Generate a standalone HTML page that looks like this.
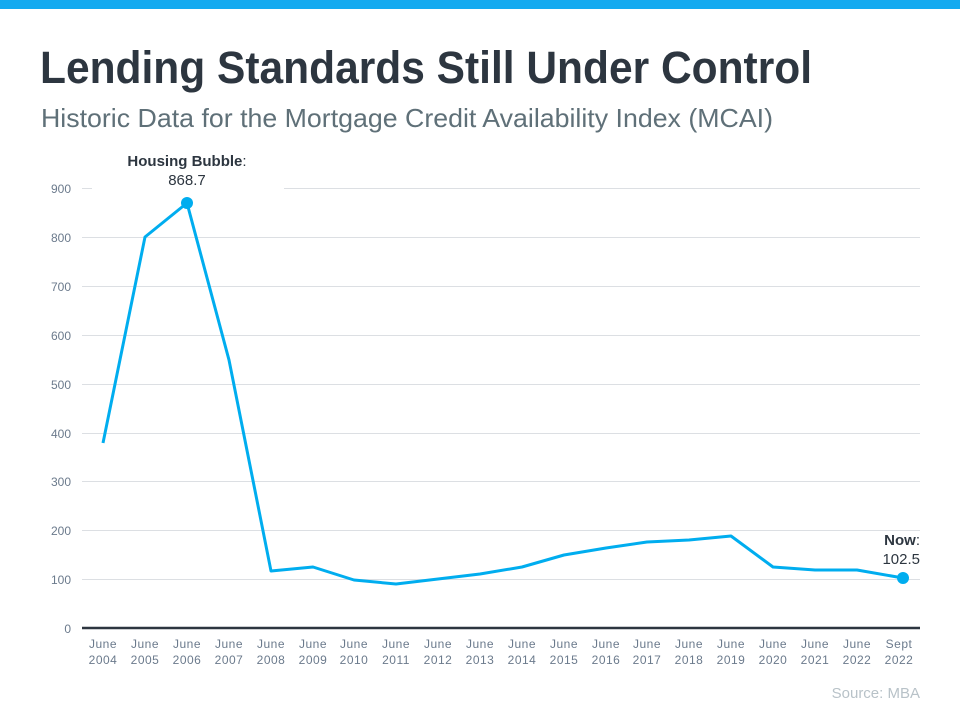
<!DOCTYPE html>
<html><head><meta charset="utf-8"><style>
html,body{margin:0;padding:0;background:#fff;}
svg{display:block;}
text{font-family:"Liberation Sans",sans-serif;}
</style></head><body>
<svg width="960" height="720" viewBox="0 0 960 720" xmlns="http://www.w3.org/2000/svg">
<rect x="0" y="0" width="960" height="9" fill="#14aaf0"/>
<text x="40" y="83" font-size="45" font-weight="bold" fill="#2d3640" textLength="772" lengthAdjust="spacingAndGlyphs">Lending Standards Still Under Control</text>
<text x="41" y="127" font-size="26" fill="#5f7078" textLength="732" lengthAdjust="spacingAndGlyphs">Historic Data for the Mortgage Credit Availability Index (MCAI)</text>
<g stroke="#dcdfe3" stroke-width="1">
<line x1="82" x2="92" y1="188.5" y2="188.5"/><line x1="284" x2="920" y1="188.5" y2="188.5"/>
<line x1="82" x2="920" y1="237.5" y2="237.5"/>
<line x1="82" x2="920" y1="286.5" y2="286.5"/>
<line x1="82" x2="920" y1="335.5" y2="335.5"/>
<line x1="82" x2="920" y1="384.5" y2="384.5"/>
<line x1="82" x2="920" y1="433.5" y2="433.5"/>
<line x1="82" x2="920" y1="481.5" y2="481.5"/>
<line x1="82" x2="920" y1="530.5" y2="530.5"/>
<line x1="82" x2="920" y1="579.5" y2="579.5"/>
</g>
<line x1="82" x2="920" y1="628" y2="628" stroke="#2d3640" stroke-width="2.5"/>
<g font-size="12" fill="#6b7a8c" text-anchor="end">
<text x="71" y="193">900</text><text x="71" y="242">800</text><text x="71" y="291">700</text>
<text x="71" y="340">600</text><text x="71" y="389">500</text><text x="71" y="438">400</text>
<text x="71" y="486">300</text><text x="71" y="535">200</text><text x="71" y="584">100</text>
<text x="71" y="633">0</text>
</g>
<g font-size="12" fill="#6b7a8c" text-anchor="middle" letter-spacing="0.5">
<text x="103" y="648">June</text><text x="103" y="664">2004</text>
<text x="145" y="648">June</text><text x="145" y="664">2005</text>
<text x="187" y="648">June</text><text x="187" y="664">2006</text>
<text x="229" y="648">June</text><text x="229" y="664">2007</text>
<text x="271" y="648">June</text><text x="271" y="664">2008</text>
<text x="313" y="648">June</text><text x="313" y="664">2009</text>
<text x="354" y="648">June</text><text x="354" y="664">2010</text>
<text x="396" y="648">June</text><text x="396" y="664">2011</text>
<text x="438" y="648">June</text><text x="438" y="664">2012</text>
<text x="480" y="648">June</text><text x="480" y="664">2013</text>
<text x="522" y="648">June</text><text x="522" y="664">2014</text>
<text x="564" y="648">June</text><text x="564" y="664">2015</text>
<text x="606" y="648">June</text><text x="606" y="664">2016</text>
<text x="647" y="648">June</text><text x="647" y="664">2017</text>
<text x="689" y="648">June</text><text x="689" y="664">2018</text>
<text x="731" y="648">June</text><text x="731" y="664">2019</text>
<text x="773" y="648">June</text><text x="773" y="664">2020</text>
<text x="815" y="648">June</text><text x="815" y="664">2021</text>
<text x="857" y="648">June</text><text x="857" y="664">2022</text>
<text x="899" y="648">Sept</text><text x="899" y="664">2022</text>
</g>
<polyline fill="none" stroke="#00adef" stroke-width="3" stroke-linejoin="round" points="103,443 145,237 187,203 229,360 271,571 313,567 354,580 396,584 438,579 480,574 522,567 564,555 606,548 647,542 689,540 731,536 773,567 815,570 857,570 903,578"/>
<circle cx="187" cy="203" r="6" fill="#00adef"/>
<circle cx="903" cy="578" r="6" fill="#00adef"/>
<text x="187" y="166" font-size="15" text-anchor="middle" fill="#2d3640"><tspan font-weight="bold">Housing Bubble</tspan>:</text>
<text x="187" y="185" font-size="15" text-anchor="middle" fill="#2d3640">868.7</text>
<text x="920" y="545" font-size="15" text-anchor="end" fill="#2d3640"><tspan font-weight="bold">Now</tspan>:</text>
<text x="920" y="564" font-size="15" text-anchor="end" fill="#2d3640">102.5</text>
<text x="920" y="698" font-size="15" text-anchor="end" fill="#b8c2c8">Source: MBA</text>
</svg>
</body></html>
